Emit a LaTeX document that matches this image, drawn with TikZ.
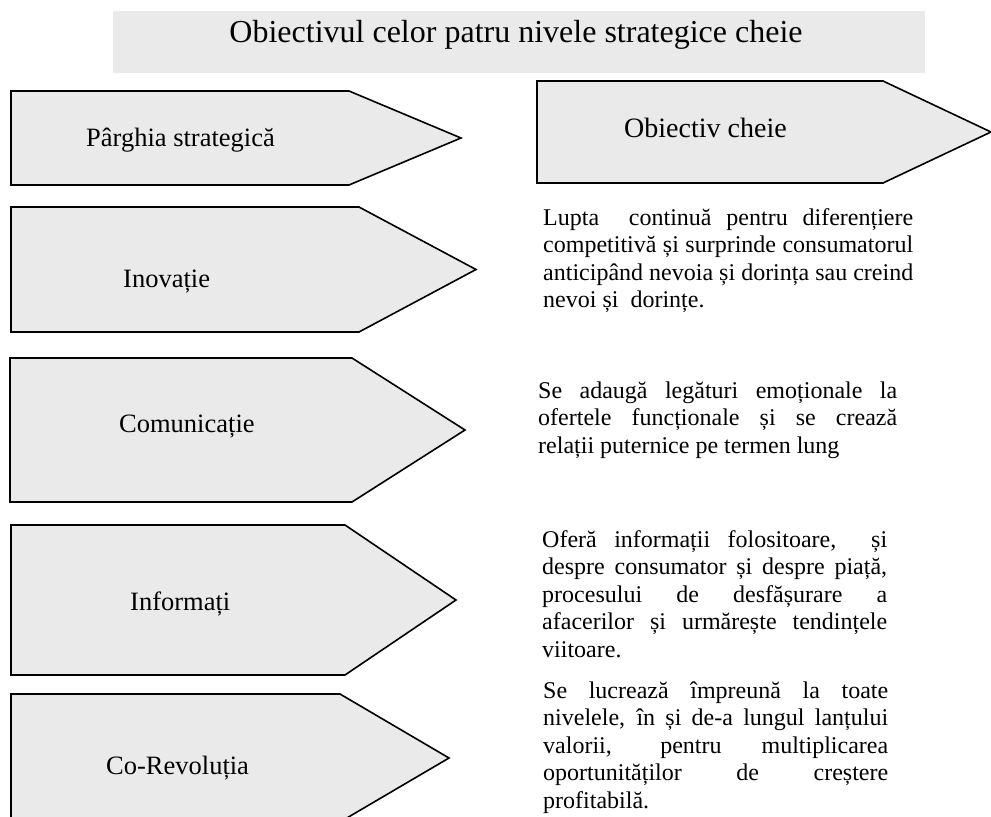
\documentclass[tikz,border=0pt]{standalone}
\usepackage{fontspec}
\setmainfont{Liberation Serif}
\definecolor{panel}{HTML}{EAEAEA}
\tikzset{
  levelshape/.style={fill=panel, draw=black, line width=1.6bp, line join=miter},
  titlefont/.style={font=\fontsize{32bp}{36bp}\selectfont},
  lbl/.style={anchor=base west, inner sep=0pt, font=\fontsize{26.5bp}{30bp}\selectfont},
  desc/.style={anchor=base west, inner sep=0pt, font=\fontsize{24bp}{27.6bp}\selectfont},
}
% pentagon arrow: left, top, bottom, shoulder x, tip x
\newcommand\levelarrow[5]{%
  \draw[levelshape] (#1,#2) -- (#4,#2) -- (#5,{(#2+#3)/2}) -- (#4,#3) -- (#1,#3) -- cycle;}
% justified paragraph with fixed line breaks
\newcommand\jline[1]{\makebox[\linewidth][s]{#1}\\}
\begin{document}
\begin{tikzpicture}[x=1bp, y=-1bp]
  \useasboundingbox (0,0) rectangle (991,817);
  \clip (0,0) rectangle (991,817);

  % heading band
  \fill[panel] (113,11) rectangle (925,73);
  \node[titlefont, anchor=base, inner sep=0pt] (title) at (516,43)
    {Obiectivul celor patru nivele strategice cheie};

  % column headers
  \levelarrow{11}{91}{185}{349}{461}
  \node[lbl] (hlever) at (86,146) {Pârghia strategică};
  \levelarrow{537}{81}{183}{883}{991}
  \node[lbl, font=\fontsize{28bp}{32bp}\selectfont] (hgoal) at (624,137) {Obiectiv cheie};

  % strategic levers
  \levelarrow{11}{207}{332}{359}{476}
  \node[lbl] (inov) at (123,287) {Inovație};
  \levelarrow{10}{358}{502}{352}{465}
  \node[lbl] (comm) at (119,432) {Comunicație};
  \levelarrow{11}{525}{675}{345}{456}
  \node[lbl] (info) at (130,610) {Informați};
  \levelarrow{11}{694}{822}{340}{449}
  \node[lbl] (corev) at (106,774) {Co-Revoluția};

  % key objectives
  \node[desc] (ginov) at (543,225) {\parbox[t]{370bp}{%
    \jline{Lupta\ \ continuă pentru diferențiere}
    \jline{competitivă și surprinde consumatorul}
    \jline{anticipând nevoia și dorința sau creind}
    nevoi și\ \ dorințe.}};
  \node[desc] (gcomm) at (538,398) {\parbox[t]{359bp}{%
    \jline{Se adaugă legături emoționale la}
    \jline{ofertele funcționale și se crează}
    relații puternice pe termen lung}};
  \node[desc] (ginfo) at (542,547) {\parbox[t]{345bp}{%
    \jline{Oferă informații folositoare,\ \ și}
    \jline{despre consumator și despre piață,}
    \jline{procesului de desfășurare a}
    \jline{afacerilor și urmărește tendințele}
    viitoare.}};
  \node[desc] (gcorev) at (543,698) {\parbox[t]{345bp}{%
    \jline{Se lucrează împreună la toate}
    \jline{nivelele, în și de-a lungul lanțului}
    \jline{valorii, pentru multiplicarea}
    \jline{oportunităților de creștere}
    profitabilă.}};
\end{tikzpicture}
\end{document}
